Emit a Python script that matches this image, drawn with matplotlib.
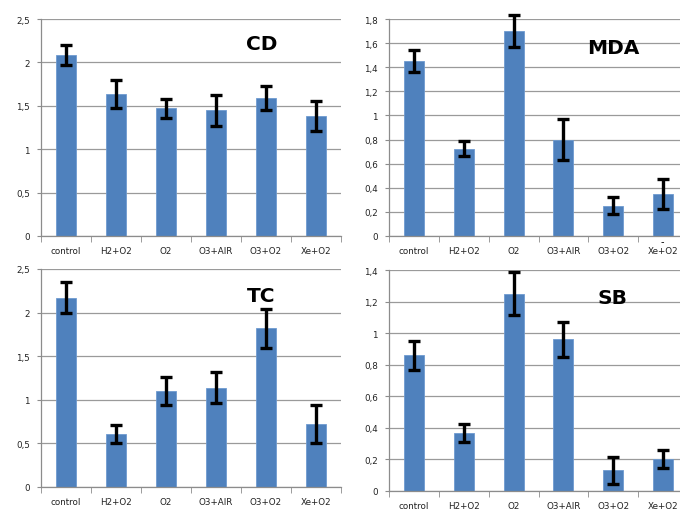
import numpy as np
import matplotlib.pyplot as plt
from matplotlib.ticker import FuncFormatter, FixedLocator

groups = ['control', 'H2+O2', 'O2', 'O3+AIR', 'O3+O2', 'Xe+O2']

cd = [2.08, 1.64, 1.47, 1.45, 1.59, 1.38]
cd_err = [0.115, 0.16, 0.105, 0.18, 0.14, 0.17]

mda = [1.45, 0.725, 1.70, 0.80, 0.25, 0.345]
mda_err = [0.09, 0.06, 0.135, 0.17, 0.07, 0.125]

tc = [2.17, 0.61, 1.10, 1.14, 1.82, 0.72]
tc_err = [0.18, 0.10, 0.165, 0.175, 0.225, 0.215]

sb = [0.86, 0.365, 1.25, 0.96, 0.13, 0.20]
sb_err = [0.093, 0.057, 0.137, 0.11, 0.087, 0.057]

W, H = 680, 510
# (left, right, top, bottom) in pixels, title pos, ymax, step
panels = [
    ('CD', cd, cd_err, (41, 341, 20, 237), (262, 45), 2.5, 0.5),
    ('MDA', mda, mda_err, (389, 688, 20, 237), (613, 49), 1.8, 0.2),
    ('TC', tc, tc_err, (41, 341, 270, 488), (261, 297), 2.5, 0.5),
    ('SB', sb, sb_err, (389, 688, 271, 492), (612, 298), 1.4, 0.2),
]

plt.rcParams['font.family'] = ['DejaVu Sans']
fig = plt.figure(figsize=(W / 100, H / 100), dpi=100)

def comma(v, pos):
    s = ('%.1f' % v).rstrip('0').rstrip('.')
    return s.replace('.', ',')

x = np.arange(len(groups))
for name, vals, errs, (l, r, t, b), (tx, ty), ymax, step in panels:
    ax = fig.add_axes([l / W, 1 - b / H, (r - l) / W, (b - t) / H])
    ax.bar(x, vals, width=0.4, color='#4F81BD', edgecolor='#6F9BD0', linewidth=0.6, zorder=2)
    eb = ax.errorbar(x, vals, yerr=errs, fmt='none', ecolor='black', elinewidth=2.4,
                     capsize=4.5, capthick=2.4, zorder=3)
    for art in eb.lines[1] + eb.lines[2]:
        art.set_clip_on(False)
    ax.set_xlim(-0.5, len(groups) - 0.5)
    ax.set_ylim(0, ymax)
    ax.set_yticks(np.arange(0, ymax + step / 2, step))
    ax.yaxis.set_major_formatter(FuncFormatter(comma))
    ax.grid(axis='y', color='#9a9a9a', linewidth=0.9, zorder=0)
    ax.set_axisbelow(True)
    ax.set_xticks(x)
    ax.set_xticklabels(groups)
    ax.xaxis.set_minor_locator(FixedLocator(np.arange(-0.5, len(groups), 1.0)))
    ax.tick_params(axis='x', which='major', length=0, labelsize=6.3, pad=7, colors='#222222')
    ax.tick_params(axis='x', which='minor', length=4, color='#8c8c8c', direction='out')
    ax.tick_params(axis='y', length=3, labelsize=6.3, pad=5, colors='#222222')
    ax.tick_params(axis='y', color='#8c8c8c')
    for s in ['top', 'right']:
        ax.spines[s].set_visible(False)
    for s in ['left', 'bottom']:
        ax.spines[s].set_color('#8c8c8c')
        ax.spines[s].set_linewidth(0.9)
    fig.text(tx / W, 1 - ty / H, name, fontsize=14.5, fontweight='bold',
             ha='center', va='center')

fig.text(662 / W, 1 - 242 / H, '-', fontsize=7, ha='center', va='center')

fig.savefig('out.png', dpi=100)
